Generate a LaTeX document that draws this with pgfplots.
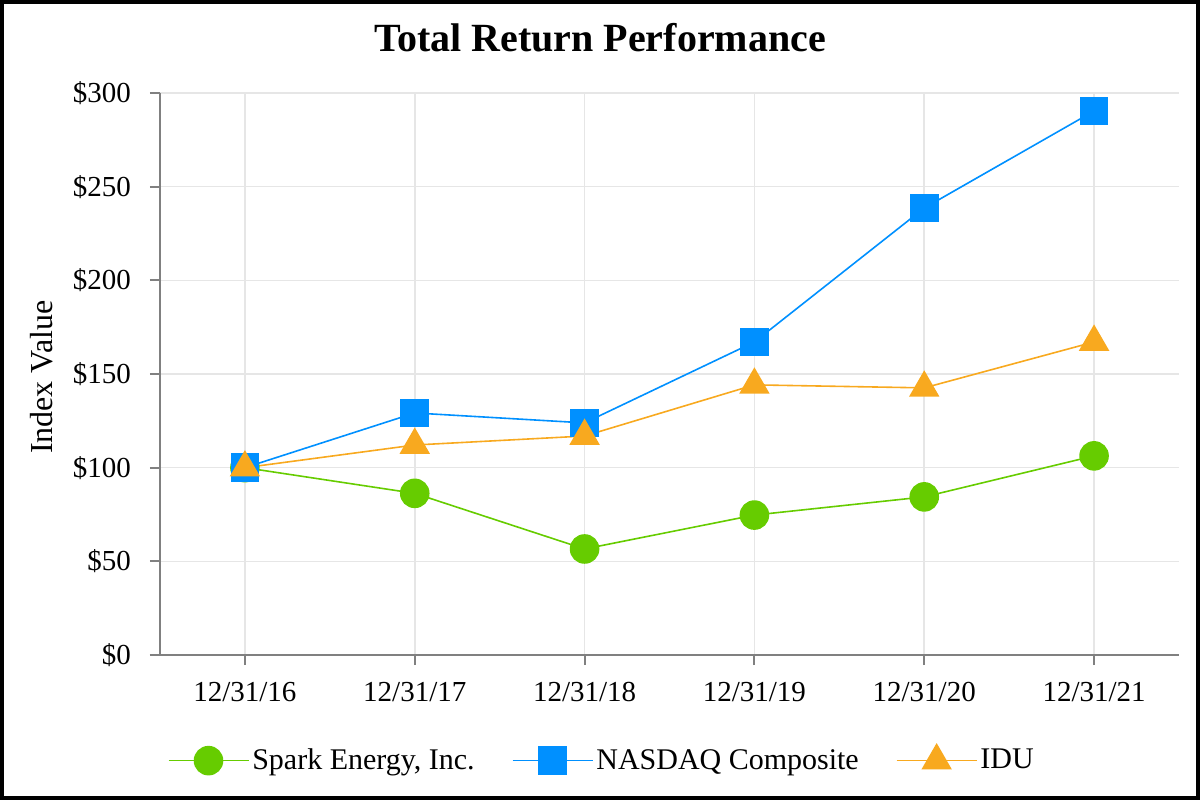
\documentclass[border=0pt]{standalone}
\usepackage{pgfplots}
\pgfplotsset{compat=1.18}
\usepackage{fontspec}
\setmainfont{Liberation Serif}
\definecolor{sparkgreen}{RGB}{102,204,0}
\definecolor{nasdaqblue}{RGB}{0,144,255}
\definecolor{iduorange}{RGB}{248,169,31}
\definecolor{axisgray}{RGB}{128,128,128}
\definecolor{gridgray}{RGB}{230,230,230}
\begin{document}
\begin{tikzpicture}
\useasboundingbox (0,0) rectangle (600pt,400pt);
\draw[line width=2pt] (1pt,1pt) rectangle (599pt,399pt);
\node[font=\fontsize{20}{24}\selectfont\bfseries] at (300pt,381pt) {Total Return Performance};
\begin{axis}[
    at={(80pt,72.5pt)}, anchor=south west,
    scale only axis,
    width=509.5pt, height=281pt,
    xmin=-0.5, xmax=5.5,
    ymin=0, ymax=300,
    xtick={0,1,2,3,4,5},
    xticklabels={12/31/16,12/31/17,12/31/18,12/31/19,12/31/20,12/31/21},
    ytick={0,50,100,150,200,250,300},
    yticklabels={\$0,\$50,\$100,\$150,\$200,\$250,\$300},
    ticklabel style={font=\fontsize{14.5}{16}\selectfont},
    xticklabel style={yshift=-5pt},
    yticklabel style={xshift=-6pt},
    ylabel={Index Value},
    every axis y label/.style={at={(rel axis cs:0,0.5)}, rotate=90, anchor=center,
        yshift=59pt, xshift=-1.5pt, font=\fontsize{16}{18}\selectfont},
    axis x line*=bottom, axis y line*=left,
    axis line style={axisgray, line width=1pt, -},
    x axis line style={shorten <=-5pt},
    tick style={axisgray, line width=1pt},
    tick align=outside,
    major tick length=5pt,
    grid=major,
    grid style={gridgray, line width=0.8pt},
    legend style={draw=none, at={(0.434,-0.187)}, anchor=center, legend columns=-1,
        font=\fontsize{15}{17}\selectfont, nodes={inner sep=1.5pt},
        /tikz/every even column/.append style={column sep=17pt}},
    legend image code/.code={\draw[mark repeat=2,mark phase=2] plot coordinates {(0pt,0pt) (20pt,0pt) (40pt,0pt)};},
    clip=false,
]
\addplot[sparkgreen, line width=0.8pt, mark=*, mark size=7pt, mark options={fill=sparkgreen, draw=sparkgreen}]
    coordinates {(0,100) (1,86.3) (2,56.6) (3,74.7) (4,84.4) (5,106.3)};
\addlegendentry{Spark Energy, Inc.}
\addplot[nasdaqblue, line width=0.8pt, mark=square*, mark size=6.75pt, mark options={fill=nasdaqblue, draw=nasdaqblue}]
    coordinates {(0,100) (1,129.2) (2,123.9) (3,167.1) (4,238.6) (5,290.4)};
\addlegendentry{NASDAQ Composite}
\addplot[iduorange, line width=0.8pt, mark=triangle*, mark size=8pt, mark options={fill=iduorange, draw=iduorange}]
    coordinates {(0,100) (1,112.1) (2,116.9) (3,144.2) (4,142.6) (5,167.1)};
\addlegendentry{IDU}
\end{axis}
\end{tikzpicture}
\end{document}
